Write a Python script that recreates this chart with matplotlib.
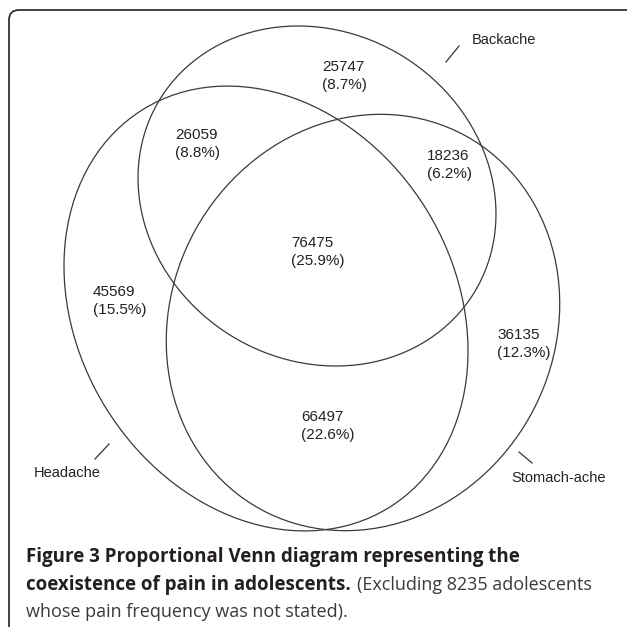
import matplotlib
matplotlib.use('Agg')
import matplotlib.pyplot as plt
from matplotlib.patches import Ellipse, FancyBboxPatch

# region counts and shares
regions = ['Backache only', 'Backache+Headache', 'Backache+Stomach', 'All three',
           'Headache only', 'Stomach only', 'Headache+Stomach']
counts = [25747, 26059, 18236, 76475, 45569, 36135, 66497]
percents = [8.7, 8.8, 6.2, 25.9, 15.5, 12.3, 22.6]
sets = ['Backache', 'Headache', 'Stomach-ache']

# layout, in pixels of the 627x627 picture (y downwards)
label_xy = [(322, 76), (175, 144), (427, 165), (291, 252),
            (93, 301), (497, 344), (301, 426)]
ellipses = {  # centre, width, height, angle
    'Backache': ((317, 196), 369, 328, 32),
    'Headache': ((266, 308.5), 377, 468, -31.6),
    'Stomach-ache': ((363, 322.5), 383, 426, 28.9),
}
set_label_xy = {'Backache': (472, 40), 'Headache': (34, 473), 'Stomach-ache': (511, 478)}
leaders = {'Backache': ((459, 46), (446, 62)),
           'Headache': ((109, 444), (95, 459)),
           'Stomach-ache': ((519, 452), (532, 463))}

fig = plt.figure(figsize=(6.27, 6.27), dpi=100)
ax = fig.add_axes([0, 0, 1, 1])
ax.set_xlim(0, 627)
ax.set_ylim(627, 0)
ax.axis('off')

# rounded frame, running off the right and bottom edges
ax.add_patch(FancyBboxPatch((9, 10), 700, 700, boxstyle='round,pad=0,rounding_size=10',
                            fill=False, ec='#333333', lw=1.3, clip_on=False))

for name in sets:
    c, w, h, a = ellipses[name]
    ax.add_patch(Ellipse(c, w, h, angle=a, fill=False, ec='#3a3a3a', lw=0.9))

for (x, y), n, p in zip(label_xy, counts, percents):
    ax.text(x, y, f'{n}\n({p}%)', ha='left', va='center', fontsize=11,
            family='Liberation Sans', color='#222222', linespacing=1.3)

for name in sets:
    x, y = set_label_xy[name]
    ax.text(x, y, name, ha='left', va='center', fontsize=10.5,
            family='Liberation Sans', color='#222222')
    (x0, y0), (x1, y1) = leaders[name]
    ax.plot([x0, x1], [y0, y1], color='#333333', lw=0.9)

# caption
cap_font = 'Open Sans'
cap_size = 13.5
t1 = ax.text(26, 557, 'Figure 3 Proportional Venn diagram representing the', ha='left',
             va='center', fontsize=cap_size, family=cap_font, weight='bold', color='#231f20')
t2 = ax.text(26, 585, 'coexistence of pain in adolescents.', ha='left', va='center',
             fontsize=cap_size, family=cap_font, weight='bold', color='#231f20')
fig.canvas.draw()
bb = t2.get_window_extent()
x_end = ax.transData.inverted().transform((bb.x1, bb.y0))[0]
ax.text(x_end + 6, 585, '(Excluding 8235 adolescents', ha='left', va='center',
        fontsize=13, family=cap_font, color='#3a3a3a')
ax.text(26, 612, 'whose pain frequency was not stated).', ha='left', va='center',
        fontsize=13, family=cap_font, color='#3a3a3a')

fig.savefig('out.png', dpi=100)
